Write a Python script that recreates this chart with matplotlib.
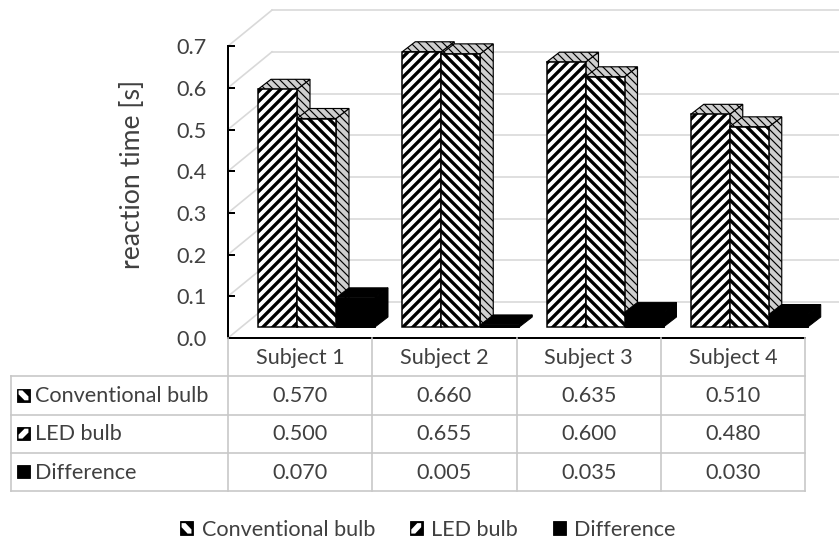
import matplotlib
matplotlib.use('Agg')
import matplotlib.pyplot as plt
from matplotlib.patches import Polygon, Rectangle, Patch
from matplotlib.legend_handler import HandlerBase

#################################################################################
## data

subjects = ['Subject 1', 'Subject 2', 'Subject 3', 'Subject 4']
series_names = ['Conventional bulb', 'LED bulb', 'Difference']
conventional = [0.570, 0.660, 0.635, 0.510]
led = [0.500, 0.655, 0.600, 0.480]
difference = [0.070, 0.005, 0.035, 0.030]
y_ticks = [0.0, 0.1, 0.2, 0.3, 0.4, 0.5, 0.6, 0.7]
y_label = 'reaction time [s]'

#################################################################################
## layout (pixels of the 839x543 picture)

W, H = 839, 543
DPI = 120
x0_px, col_px = 228, 144.25      # left of plot, width of one subject column
y0_px, unit_px = 338, 417        # front floor line, pixels per 1.0 s
table_bottom_px = 491

# pseudo 3d offsets, in data units
wall_dx, wall_dy = 44 / col_px, 36 / unit_px
bar_dx, bar_dy = 13 / col_px, 10 / unit_px
bar_base = 11 / unit_px
group_left = 30 / col_px
bar_w = 39 / col_px

grid_col = '#d9d9d9'
table_col = '#c8c8c8'
side_col = '#cfcfcf'
text_col = '#404040'
fs = 13

plt.rcParams['font.family'] = ['Lato', 'DejaVu Sans']
plt.rcParams['hatch.linewidth'] = 2.0

fig = plt.figure(figsize=(W / DPI, H / DPI), dpi=DPI)
ax = fig.add_axes([x0_px / W, (H - y0_px) / H, (W - x0_px) / W, y0_px / H])
xmax = (W - x0_px) / col_px
ax.set_xlim(0, xmax)
ax.set_ylim(0, y0_px / unit_px)

# back wall grid lines and the side wall diagonals
for v in y_ticks:
    ax.plot([wall_dx, xmax], [v + wall_dy, v + wall_dy], color=grid_col, lw=1.0, zorder=1)
    ax.plot([0, wall_dx], [v, v + wall_dy], color=grid_col, lw=1.0, zorder=1)


def draw_bar(x, h, hatch, dark=False):
    b = bar_base
    if dark:
        kw_f = dict(facecolor='black', edgecolor='black', lw=0.6)
        kw_s = kw_f
    else:
        kw_f = dict(facecolor='white', edgecolor='black', lw=0.9, hatch=hatch)
        kw_s = dict(facecolor=side_col, edgecolor='black', lw=0.7, hatch='\\\\\\\\\\')
    with plt.rc_context({'hatch.linewidth': 0.7}):
        side = Polygon([(x + bar_w, b), (x + bar_w + bar_dx, b + bar_dy),
                        (x + bar_w + bar_dx, b + h + bar_dy), (x + bar_w, b + h)],
                       closed=True, **kw_s)
        top = Polygon([(x, b + h), (x + bar_dx, b + h + bar_dy),
                       (x + bar_w + bar_dx, b + h + bar_dy), (x + bar_w, b + h)],
                      closed=True, **kw_s)
    front = Rectangle((x, b), bar_w, h, **kw_f)
    for p in (side, top, front):
        p.set_zorder(3)
        ax.add_patch(p)


hatches = ['////', '\\\\\\\\', None]
for i in range(len(subjects)):
    vals = [conventional[i], led[i], difference[i]]
    for k, v in enumerate(vals):
        x = i + group_left + k * bar_w
        draw_bar(x, v, hatches[k], dark=(k == 2))

# axes
for s in ['top', 'right']:
    ax.spines[s].set_visible(False)
ax.spines['left'].set_bounds(0, 0.7)
ax.spines['bottom'].set_bounds(0, len(subjects))
ax.spines['left'].set_linewidth(1.2)
ax.spines['bottom'].set_linewidth(1.2)
ax.set_xticks([])
ax.set_yticks(y_ticks)
ax.set_yticklabels(['%.1f' % v for v in y_ticks], fontsize=fs, color=text_col)
ax.tick_params(axis='y', direction='in', length=4.2, width=1.2, pad=13)
ax.patch.set_alpha(0)

fig.text(133 / W, 1 - 174 / H, y_label, rotation=90, ha='center', va='center',
         fontsize=16, color=text_col)

#################################################################################
## legend keys: black square with a white diagonal band


def key_shapes(x, y, w, h, kind):
    # kind 0: band like "\", kind 1: band like "/", kind 2: solid
    shapes = [Rectangle((x, y), w, h, facecolor='black', edgecolor='black', lw=0.5)]
    if kind == 2:
        return shapes
    band = [(0.12, 0.88), (0.42, 0.88), (0.88, 0.42), (0.88, 0.12), (0.58, 0.12), (0.12, 0.58)]
    if kind == 1:
        band = [(u, 1 - v) for u, v in band]
    shapes.append(Polygon([(x + u * w, y + v * h) for u, v in band], closed=True,
                          facecolor='white', edgecolor='none'))
    return shapes


class KeyHandler(HandlerBase):
    def __init__(self, kind):
        super().__init__()
        self.kind = kind

    def create_artists(self, legend, orig_handle, xdescent, ydescent, width, height,
                       fontsize, trans):
        arts = key_shapes(-xdescent, -ydescent, width, height, self.kind)
        for a in arts:
            a.set_transform(trans)
        return arts


#################################################################################
## data table

tab = fig.add_axes([x0_px / W, (H - table_bottom_px) / H, (W - x0_px) / W,
                    (table_bottom_px - y0_px) / H])
tab.set_xlim(0, xmax)
tab.set_ylim(4, 0)
tab.axis('off')
left_edge = (11 - x0_px) / col_px
n = len(subjects)

for c in range(n + 1):
    tab.plot([c, c], [0, 4], color=table_col, lw=1.0, clip_on=False)
tab.plot([left_edge, left_edge], [1, 4], color=table_col, lw=1.0, clip_on=False)
for r in range(1, 5):
    tab.plot([left_edge, n], [r, r], color=table_col, lw=1.0, clip_on=False)

for i, s in enumerate(subjects):
    tab.text(i + 0.5, 0.52, s, ha='center', va='center', fontsize=fs, color=text_col)
rows = [conventional, led, difference]
for r, vals in enumerate(rows):
    for i, v in enumerate(vals):
        tab.text(i + 0.5, r + 1.52, '%.3f' % v, ha='center', va='center',
                 fontsize=fs, color=text_col)

key_w = 13 / col_px
key_h = 13 / 38.25
for r, name in enumerate(series_names):
    kx = (17 - x0_px) / col_px
    # table axes has an inverted y, so flip the key kind for "\" and "/"
    kind = [1, 0, 2][r]
    for a in key_shapes(kx, r + 1.5 - key_h / 2, key_w, key_h, kind):
        a.set_clip_on(False)
        tab.add_patch(a)
    tab.text((35 - x0_px) / col_px, r + 1.52, name, ha='left', va='center',
             fontsize=fs, color=text_col)

#################################################################################
## legend

handles = [Patch(label=name) for name in series_names]
handler_map = {h: KeyHandler(k) for k, h in enumerate(handles)}
fig.legend(handles=handles, handler_map=handler_map, loc='center',
           bbox_to_anchor=(428 / W, 1 - 530 / H), ncol=3, frameon=False, fontsize=fs,
           handlelength=0.6, handleheight=0.6, handletextpad=0.4, columnspacing=1.6,
           labelcolor=text_col)

fig.savefig('out.png', dpi=DPI)
